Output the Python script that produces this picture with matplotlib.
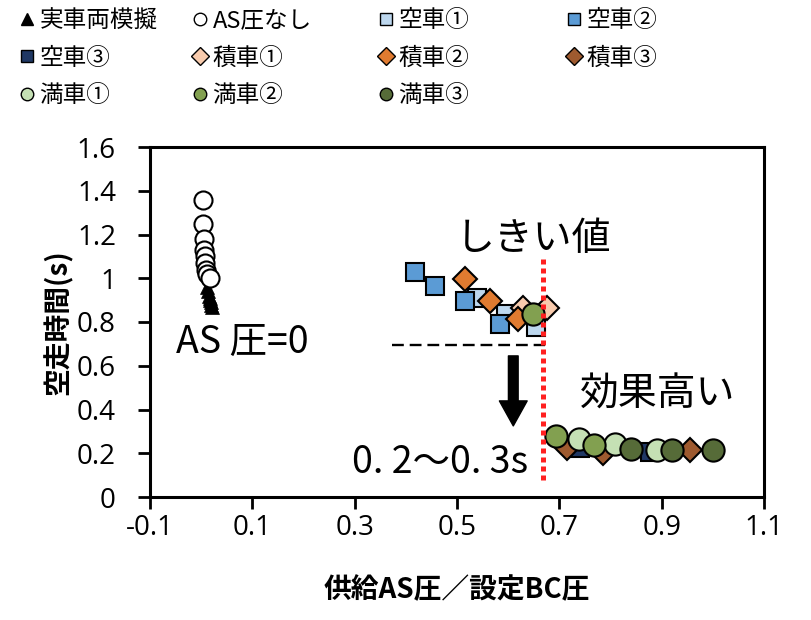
import matplotlib
matplotlib.use('Agg')
import matplotlib.pyplot as plt
from matplotlib.lines import Line2D
from matplotlib.ticker import FuncFormatter

plt.rcParams['font.family'] = ['Noto Sans CJK JP', 'DejaVu Sans']

# series data (x = 供給AS圧/設定BC圧, y = 空走時間 s)
sim_x = [0.012, 0.014, 0.016, 0.017, 0.018, 0.019, 0.020, 0.021]
sim_y = [0.96, 0.94, 0.92, 0.91, 0.90, 0.89, 0.88, 0.87]
noas_x = [0.003, 0.004, 0.005, 0.006, 0.007, 0.008, 0.010, 0.012, 0.018]
noas_y = [1.36, 1.25, 1.18, 1.13, 1.10, 1.07, 1.04, 1.02, 1.00]
kara1_x = [0.540, 0.595, 0.655]
kara1_y = [0.91, 0.835, 0.775]
kara2_x = [0.418, 0.457, 0.516, 0.584]
kara2_y = [1.03, 0.965, 0.895, 0.79]
kara3_x = [0.740, 0.877]
kara3_y = [0.225, 0.205]
seki1_x = [0.629, 0.675]
seki1_y = [0.865, 0.865]
seki2_x = [0.516, 0.564, 0.620]
seki2_y = [0.998, 0.896, 0.812]
seki3_x = [0.715, 0.785, 0.955]
seki3_y = [0.226, 0.200, 0.216]
man1_x = [0.738, 0.808, 0.890]
man1_y = [0.267, 0.244, 0.213]
man2_x = [0.649, 0.694, 0.768]
man2_y = [0.835, 0.278, 0.240]
man3_x = [0.841, 0.920, 1.000]
man3_y = [0.220, 0.216, 0.213]

xticks = [-0.1, 0.1, 0.3, 0.5, 0.7, 0.9, 1.1]
yticks = [0, 0.2, 0.4, 0.6, 0.8, 1.0, 1.2, 1.4, 1.6]
threshold = 0.668

fig = plt.figure(figsize=(8.11, 6.2), dpi=100)
ax = fig.add_axes([150/811, 123/620, 614/811, 350/620])

ew = 1.5
series = [
    ('実車両模擬', sim_x, sim_y, dict(marker='^', ms=10, mfc='black', mec='black', mew=0.5)),
    ('AS圧なし', noas_x, noas_y, dict(marker='o', ms=13, mfc='white', mec='black', mew=ew)),
    ('空車①', kara1_x, kara1_y, dict(marker='s', ms=13.5, mfc='#BDD7EE', mec='black', mew=ew)),
    ('空車②', kara2_x, kara2_y, dict(marker='s', ms=13.5, mfc='#5B9BD5', mec='black', mew=ew)),
    ('空車③', kara3_x, kara3_y, dict(marker='s', ms=13.5, mfc='#203864', mec='black', mew=ew)),
    ('積車①', seki1_x, seki1_y, dict(marker='D', ms=12.5, mfc='#F8CBAD', mec='black', mew=ew)),
    ('積車②', seki2_x, seki2_y, dict(marker='D', ms=12.5, mfc='#E07B30', mec='black', mew=ew)),
    ('積車③', seki3_x, seki3_y, dict(marker='D', ms=12.5, mfc='#9E5A2F', mec='black', mew=ew)),
    ('満車①', man1_x, man1_y, dict(marker='o', ms=16, mfc='#C5E0B4', mec='black', mew=ew)),
    ('満車②', man2_x, man2_y, dict(marker='o', ms=16, mfc='#82A050', mec='black', mew=ew)),
    ('満車③', man3_x, man3_y, dict(marker='o', ms=16, mfc='#566B38', mec='black', mew=ew)),
]

handles = []
for name, xs, ys, st in series:
    ax.plot(xs, ys, linestyle='none', **st)
    lst = dict(st)
    lst['ms'] = 9 if st['marker'] != '^' else 8
    lst['mew'] = 1.0
    handles.append(Line2D([], [], linestyle='none', label=name, **lst))

# annotations
ax.plot([0.373, 0.672], [0.693, 0.693], color='black', lw=1.7, linestyle=(0, (5, 2.5)))
ax.plot([threshold, threshold], [0.08, 1.10], color='#FF2020', lw=3.6,
        linestyle=(0, (1, 0.8)), zorder=5)
ax.annotate('', xy=(0.61, 0.325), xytext=(0.61, 0.645),
            arrowprops=dict(width=7, headwidth=20, headlength=18,
                            facecolor='black', edgecolor='black', shrink=0))
ax.text(0.65, 1.18, 'しきい値', fontsize=28, ha='center', va='center')
ax.text(0.893, 0.468, '効果高い', fontsize=28, ha='center', va='center')
ax.text(0.08, 0.706, 'AS 圧=0', fontsize=27, ha='center', va='center')
ax.text(0.467, 0.156, '0. 2～0. 3s', fontsize=27, ha='center', va='center')

ax.set_xlim(-0.1, 1.1)
ax.set_ylim(0, 1.6)
ax.set_xticks(xticks)
ax.set_yticks(yticks)
fmt = FuncFormatter(lambda v, p: '%g' % round(v, 2))
ax.xaxis.set_major_formatter(fmt)
ax.yaxis.set_major_formatter(fmt)
for lab in ax.get_xticklabels() + ax.get_yticklabels():
    lab.set_family(['Open Sans', 'DejaVu Sans'])
    lab.set_fontsize(20)
ax.tick_params(direction='out', length=8.5, width=2)
ax.tick_params(axis='y', pad=16)
ax.tick_params(axis='x', pad=4)
for sp in ax.spines.values():
    sp.set_linewidth(2.2)

ax.set_xlabel('供給AS圧／設定BC圧', fontsize=20, fontweight='bold', labelpad=24)
ax.set_ylabel('空走時間(s)', fontsize=20, fontweight='bold', labelpad=3)

# legend laid out in 4 fixed columns, row-major like the original
col_x = [10, 183, 369, 557]
for c in range(4):
    col = handles[c::4]
    leg = fig.legend(handles=col, loc='upper left', bbox_to_anchor=(col_x[c]/811, 1.0),
                     frameon=False, fontsize=17, handlelength=0.6, handletextpad=0.25,
                     labelspacing=0.6, borderaxespad=0.0)

fig.savefig('out.png', dpi=100)
